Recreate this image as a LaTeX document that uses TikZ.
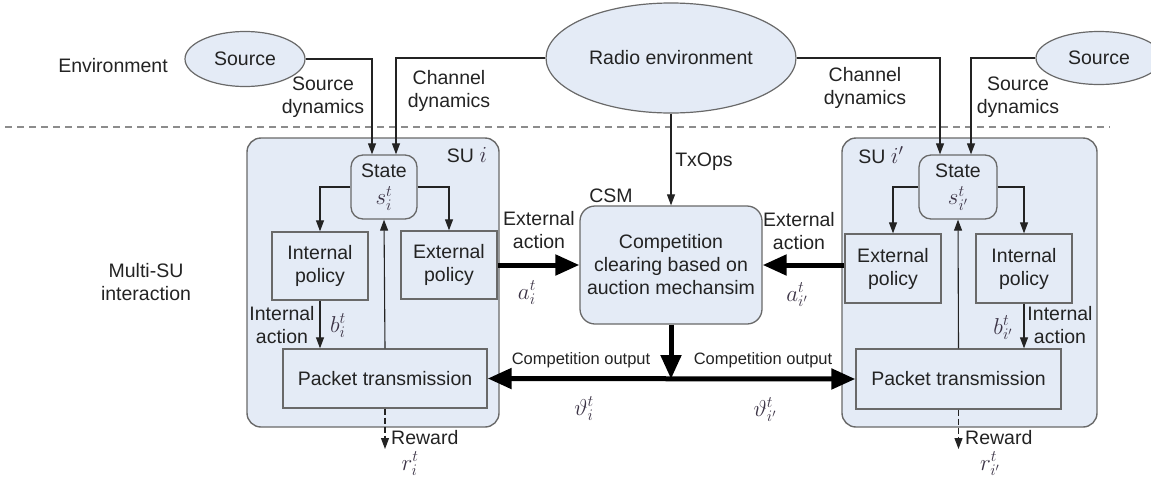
\RequirePackage{fix-cm}
\documentclass[tikz,border=0pt]{standalone}
\usepackage{fontspec}
\setmainfont{Liberation Sans}
\usetikzlibrary{arrows.meta,shapes.geometric,calc}
\definecolor{boxfill}{RGB}{228,235,246}
\definecolor{edge}{RGB}{105,105,105}
\definecolor{ink}{RGB}{35,35,35}
\definecolor{symb}{RGB}{60,52,70}
\definecolor{sepline}{RGB}{140,140,140}
\newcommand{\symsize}{\fontsize{23}{25}\selectfont}
\tikzset{
  txt/.style={font=\fontsize{19.5}{23}\selectfont, text=ink, align=center, inner sep=0pt},
  small/.style={font=\fontsize{16.5}{19}\selectfont, text=ink, inner sep=0pt},
  sym/.style={text=symb, inner sep=0pt, font=\symsize},
  env/.style={ellipse, draw=edge, fill=boxfill, line width=1.2pt, inner sep=0pt, txt},
  subox/.style={draw=edge, fill=boxfill, rounded corners=14pt, line width=1.4pt, inner sep=0pt},
  plainbox/.style={draw=edge, fill=boxfill, line width=1.3pt, inner sep=0pt, txt},
  roundbox/.style={plainbox, rounded corners=12pt},
  arr/.style={draw=ink, line width=1.1pt, -{Triangle[length=11pt,width=8pt]}},
  bigarr/.style={draw=black, line width=5pt, -{Triangle[length=24pt,width=20pt]}},
  bigboth/.style={draw=black, line width=5pt, {Triangle[length=24pt,width=20pt]}-{Triangle[length=24pt,width=20pt]}},
}
\begin{document}
\begin{tikzpicture}[x=1pt,y=-1pt]
\useasboundingbox (0,0) rectangle (1151,480);

% environment layer
\node[txt] (envlab) at (113,66) {Environment};
\node[txt] (mulab) at (146,282) {Multi-SU\\interaction};
\node[env, minimum width=120pt, minimum height=55pt] (srcL) at (245,59) {Source};
\node[env, minimum width=250pt, minimum height=110pt] (radio) at (671,58) {Radio environment};
\node[env, minimum width=126pt, minimum height=53pt] (srcR) at (1099,58) {Source};

% separator between the two layers
\draw[sepline, line width=1.5pt, dash pattern=on 7pt off 5pt] (5,127) -- (1110,127);

% SU containers
\node[subox, minimum width=252pt, minimum height=289pt] (suL) at (373,282.5) {};
\node[subox, minimum width=255pt, minimum height=289pt] (suR) at (969.5,282.5) {};
\node[txt] (suLlab) at (467,155) {SU {\color{symb}\symsize$i$}};
\node[txt] (suRlab) at (881,155) {SU {\color{symb}\symsize$i'$}};

% SU i blocks
\node[roundbox, minimum width=66pt, minimum height=64pt] (stateL) at (384,187) {State\\[4pt]{\color{symb}\symsize$s_i^t$}};
\node[plainbox, minimum width=96pt, minimum height=68pt] (intL) at (320,266) {Internal\\policy};
\node[plainbox, minimum width=96pt, minimum height=68pt] (extL) at (449,265) {External\\policy};
\node[plainbox, minimum width=204pt, minimum height=59pt] (pktL) at (385,378.5) {Packet transmission};

% SU i' blocks
\node[roundbox, minimum width=78pt, minimum height=64pt] (stateR) at (958,187) {State\\[4pt]{\color{symb}\symsize$s_{i'}^t$}};
\node[plainbox, minimum width=96pt, minimum height=69pt] (extR) at (893,268.5) {External\\policy};
\node[plainbox, minimum width=96pt, minimum height=69pt] (intR) at (1024,268.5) {Internal\\policy};
\node[plainbox, minimum width=205pt, minimum height=60pt] (pktR) at (958.5,379) {Packet transmission};

% competition clearing
\node[roundbox, rounded corners=15pt, minimum width=182pt, minimum height=118pt] (csm) at (671,265) {Competition\\clearing based on\\auction mechansim};
\node[txt] (csmlab) at (611,196) {CSM};

% environment dynamics into the states
\draw[arr] (srcL.east) -| ([xshift=-12pt]stateL.north);
\draw[arr] (radio.west) -| ([xshift=12pt]stateL.north);
\draw[arr] (radio.east) -| ([xshift=-18pt]stateR.north);
\draw[arr] (srcR.west) -| ([xshift=13pt]stateR.north);
\draw[arr] (radio.south) -- (csm.north);
\node[txt] (srcdynL) at (323,97) {Source\\dynamics};
\node[txt] (chdynL) at (449,91) {Channel\\dynamics};
\node[txt] (chdynR) at (865,88) {Channel\\dynamics};
\node[txt] (srcdynR) at (1018,97) {Source\\dynamics};
\node[txt] (txops) at (704,162) {TxOps};

% SU i internal flow
\draw[arr] (stateL.west) -| (intL.north);
\draw[arr] (stateL.east) -| (extL.north);
\draw[arr] (intL.south) -- (intL.south |- pktL.north);
\draw[arr] (pktL.north) -- (stateL.south);
\coordinate (rwL) at (385,449);
\draw[arr, dash pattern=on 6pt off 3pt] (pktL.south) -- (rwL);
\node[txt] (intactL) at (282,325) {Internal\\action};
\node[sym] (bL) at (338,326) {$b_i^t$};
\node[txt, anchor=west] (rewL) at (391,438) {Reward};
\node[sym] (rL) at (410,464) {$r_i^t$};

% SU i' internal flow
\draw[arr] (stateR.west) -| (extR.north);
\draw[arr] (stateR.east) -| (intR.north);
\draw[arr] (intR.south) -- (intR.south |- pktR.north);
\draw[arr] (pktR.north) -- (stateR.south);
\coordinate (rwR) at (958.5,449);
\draw[arr, dash pattern=on 6pt off 3pt] (pktR.south) -- (rwR);
\node[txt] (intactR) at (1060,325) {Internal\\action};
\node[sym] (bR) at (1003,328) {$b_{i'}^t$};
\node[txt, anchor=west] (rewR) at (965,438) {Reward};
\node[sym] (rR) at (990,464) {$r_{i'}^t$};

% bids and competition output
\draw[bigarr] (extL.east) -- (csm.west);
\draw[bigarr] (extR.west |- csm.east) -- (csm.east);
\coordinate (jn) at (671,379);
\draw[bigarr] (csm.south) -- (jn);
\draw[bigboth] (pktL.east) -- (pktR.west);
\node[txt] (extactL) at (539,230) {External\\action};
\node[txt] (extactR) at (799,231) {External\\action};
\node[sym] (aL) at (527,293) {$a_i^t$};
\node[sym] (aR) at (797,295) {$a_{i'}^t$};
\node[small] (coutL) at (581,360) {Competition output};
\node[small] (coutR) at (763,360) {Competition output};
\node[sym] (thL) at (584,409) {$\vartheta_i^t$};
\node[sym] (thR) at (765,410) {$\vartheta_{i'}^t$};
\end{tikzpicture}
\end{document}
